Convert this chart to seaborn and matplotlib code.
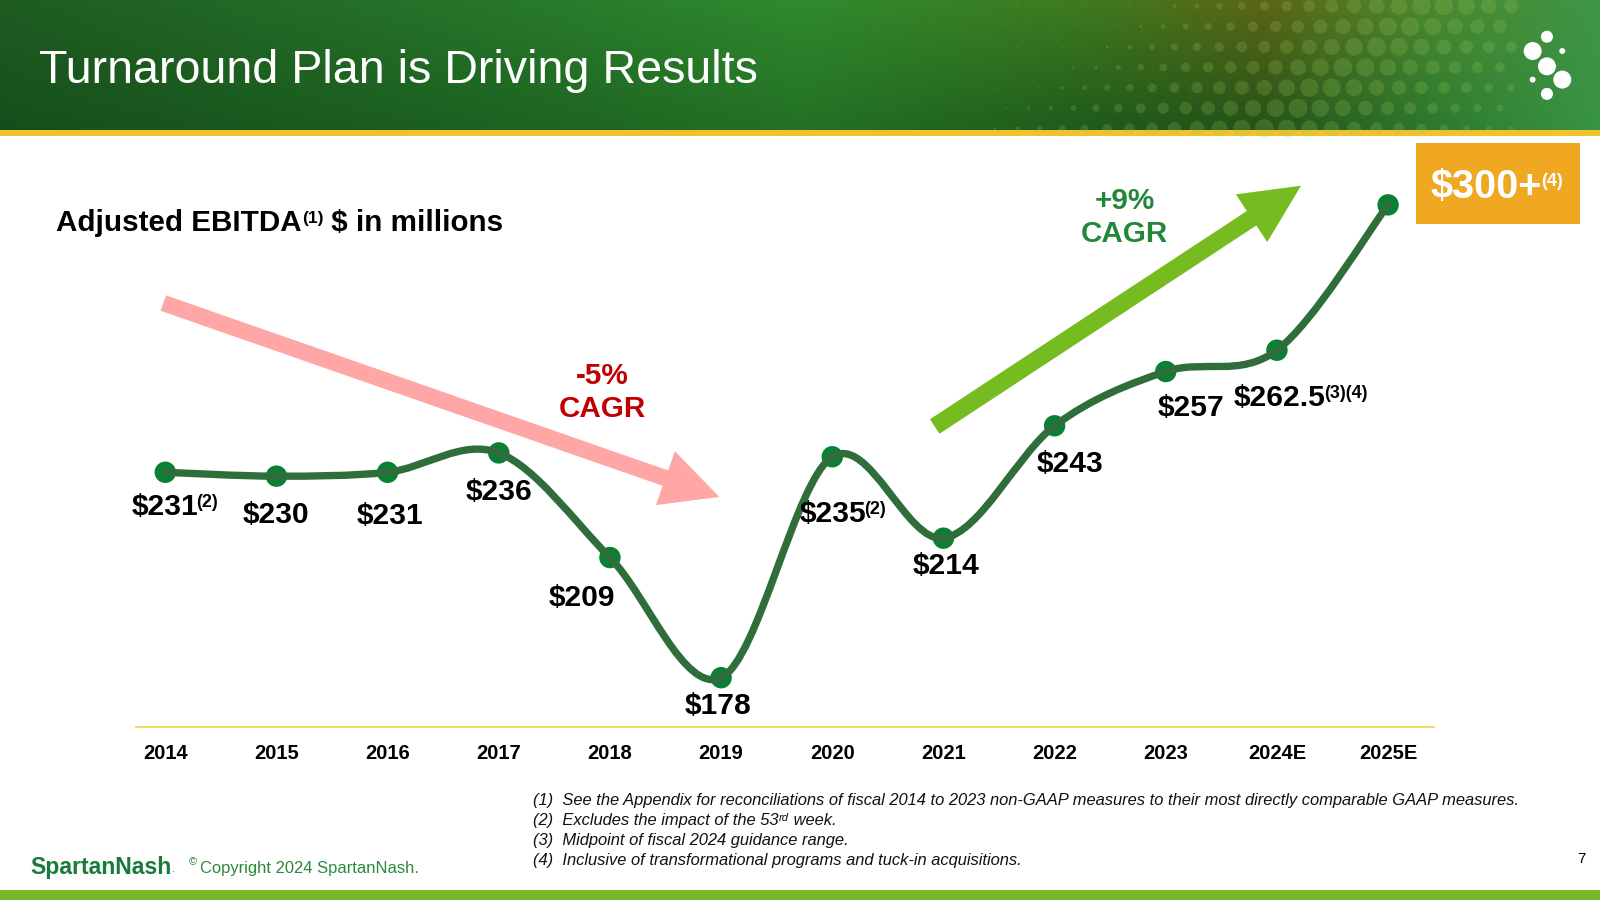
"""
plot.py
=======
Adjusted EBITDA slide: smooth line of yearly values, CAGR arrows,
header banner and footnotes. Saves out.png (1600x900).
"""

import numpy as np
import pandas as pd
import matplotlib
matplotlib.use("Agg")
import matplotlib.pyplot as plt
import matplotlib.patches as mpatches
from matplotlib.path import Path
import seaborn as sns

# ── Data ──────────────────────────────────────────────────────
years  = ["2014", "2015", "2016", "2017", "2018", "2019",
          "2020", "2021", "2022", "2023", "2024E", "2025E"]
ebitda = [231, 230, 231, 236, 209, 178, 235, 214, 243, 257, 262.5, 300]
value_labels = ["$231", "$230", "$231", "$236", "$209", "$178",
                "$235", "$214", "$243", "$257", "$262.5", "$300+"]
label_notes  = ["(2)", "", "", "", "", "", "(2)", "", "", "", "(3)(4)", "(4)"]

title    = "Turnaround Plan is Driving Results"
subtitle = "Adjusted EBITDA"
down_cagr = "-5%\nCAGR"
up_cagr   = "+9%\nCAGR"
footnotes = [
    ("(1)  See the Appendix for reconciliations of fiscal 2014 to 2023 non-GAAP "
     "measures to their most directly comparable GAAP measures.", "", ""),
    ("(2)  Excludes the impact of the 53", "rd", " week."),
    ("(3)  Midpoint of fiscal 2024 guidance range.", "", ""),
    ("(4)  Inclusive of transformational programs and tuck-in acquisitions.", "", ""),
]

# ── Layout (slide pixels on a 1568 x 882 grid) ────────────────
PT = 0.7347                      # slide px -> points
# label offset from its point (dx, dy), slide px, +dy = down
label_offsets = [(0, 34), (0, 38), (2, 43), (0, 38), (-27, 40), (-3, 28),
                 (1, 56), (3, 27), (15, 37), (25, 36), (3, 47), (0, 0)]

LINE_C   = "#2F6E3B"
MARKER_C = "#0B7F36"
RED_C    = "#C00000"
GREEN_C  = "#23873A"

sns.set_theme(style="white")
plt.rcParams["font.family"] = ["Liberation Sans", "DejaVu Sans"]
plt.rcParams["text.color"] = "black"

df = pd.DataFrame({"year": years, "pos": np.arange(len(years)), "ebitda": ebitda})

fig = plt.figure(figsize=(16, 9), dpi=100)
fig.patch.set_facecolor("white")

# background axes in slide pixels (y down)
bg = fig.add_axes([0, 0, 1, 1], zorder=0)
bg.set_xlim(0, 1568)
bg.set_ylim(882, 0)
bg.axis("off")

# ── Header banner ─────────────────────────────────────────────
stops = [0.0, 0.3, 0.5, 0.68, 0.79, 0.9, 1.0]
top_c = ["#1E5C22", "#27762A", "#2F8A2E", "#3F7A1F", "#5D6515", "#4A8A31", "#3F9546"]
bot_c = ["#164E1B", "#1C6120", "#237124", "#1F5A1A", "#22521A", "#2D7A30", "#389444"]
W, H = 400, 40
u = np.linspace(0, 1, W)
def ramp(cols):
    rgb = np.array([matplotlib.colors.to_rgb(c) for c in cols])
    return np.stack([np.interp(u, stops, rgb[:, k]) for k in range(3)], axis=1)
t_row, b_row = ramp(top_c), ramp(bot_c)
v = np.linspace(0, 1, H)[:, None, None]
img = t_row[None] * (1 - v) + b_row[None] * v
bg.imshow(img, extent=(0, 1568, 128, 0), aspect="auto", zorder=0)
bg.add_patch(mpatches.Rectangle((0, 127), 1568, 6, color="#F2C12E", lw=0, zorder=1))

# halftone dots
for j in range(7):
    for i in range(24):
        x = 975 + 22 * i + (11 if j % 2 else 0)
        y = 6 + 20 * j
        if x > 1485:
            continue
        d = (x - 1330) * 0.6 + (y - 60) * 0.8
        r = 8.5 * np.clip(1 - abs(d) / 170, 0, 1) + 0.8
        bg.add_patch(mpatches.Circle((x, y), r, color="#9CC85A", alpha=0.22, lw=0, zorder=1))

# logo
for (cx, cy, r) in [(1516, 36, 5.9), (1502, 50, 8.8), (1531, 50, 2.9), (1516, 65, 8.8),
                    (1502, 78, 2.9), (1531, 78, 8.8), (1516, 92, 5.9)]:
    bg.add_patch(mpatches.Circle((cx, cy), r, color="white", lw=0, zorder=2))

bg.text(38, 70, title, color="white", fontsize=33.6, va="center", ha="left", zorder=3)

# bottom bar
bg.add_patch(mpatches.Rectangle((0, 872), 1568, 10, color="#76B82A", lw=0))

# ── Subtitle ──────────────────────────────────────────────────
st = bg.text(55, 219, subtitle, fontsize=21.3, weight="bold", va="center", ha="left")
sp = bg.annotate("(1)", xy=(1, 1), xycoords=st, xytext=(0, -1), textcoords="offset points",
                 fontsize=12.5, weight="bold", va="top", ha="left")
bg.annotate(" $ in millions", xy=(1, 0), xycoords=(sp, st), xytext=(0, 0),
            textcoords="offset points", fontsize=21.3, weight="bold", va="bottom", ha="left")

# ── CAGR arrows ───────────────────────────────────────────────
bg.add_patch(mpatches.FancyArrow(160, 297, 545, 190, width=16, head_width=56, head_length=56,
                                 length_includes_head=True, color="#FFA6A6", lw=0, zorder=1))
bg.add_patch(mpatches.FancyArrow(916, 418, 359, -236, width=17, head_width=56, head_length=58,
                                 length_includes_head=True, color="#76BC21", lw=0, zorder=1))
bg.text(590, 385, down_cagr, color=RED_C, fontsize=21.3, weight="bold",
        ha="center", va="center", linespacing=1.22)
bg.text(1102, 213, up_cagr, color=GREEN_C, fontsize=21.3, weight="bold",
        ha="center", va="center", linespacing=1.22)

# ── Main axes ─────────────────────────────────────────────────
ax = fig.add_axes([133 / 1568, 1 - 712 / 882, (1405 - 133) / 1568, (712 - 140) / 882], zorder=2)
ax.set_facecolor("none")

sns.scatterplot(data=df, x="pos", y="ebitda", s=238, color=MARKER_C, edgecolor="none",
                legend=False, zorder=3, ax=ax)

# smooth line through the points (Catmull-Rom as cubic Bezier)
pts = df[["pos", "ebitda"]].to_numpy(dtype=float)
n = len(pts)
verts, codes = [tuple(pts[0])], [Path.MOVETO]
for k in range(n - 1):
    p0, p1 = pts[max(k - 1, 0)], pts[k]
    p2, p3 = pts[k + 1], pts[min(k + 2, n - 1)]
    verts += [tuple(p1 + (p2 - p0) / 6), tuple(p2 - (p3 - p1) / 6), tuple(p2)]
    codes += [Path.CURVE4] * 3
ax.add_patch(mpatches.PathPatch(Path(verts, codes), facecolor="none", edgecolor=LINE_C,
                                lw=5.3, capstyle="round", joinstyle="round", zorder=4))

ax.set_xlim(-0.266, 11.41)
ax.set_ylim(165.4, 316)
ax.set_xticks(df["pos"], years)
ax.set_yticks([])
ax.set_xlabel("")
ax.set_ylabel("")
ax.tick_params(axis="x", length=0, pad=12.5, labelsize=14.5, labelcolor="black")
for lab in ax.get_xticklabels():
    lab.set_fontweight("bold")
for side in ["top", "left", "right"]:
    ax.spines[side].set_visible(False)
ax.spines["bottom"].set_color("#F2D45C")
ax.spines["bottom"].set_linewidth(1.3)

# value labels
for k in range(n - 1):
    dx, dy = label_offsets[k]
    t = ax.annotate(value_labels[k], xy=(df["pos"][k], df["ebitda"][k]),
                    xytext=(dx * PT, -dy * PT), textcoords="offset points",
                    ha="center", va="center", fontsize=21.6, weight="bold",
                    color="black", zorder=5)
    if label_notes[k]:
        ax.annotate(label_notes[k], xy=(1, 0.97), xycoords=t, xytext=(-1.5, 0),
                    textcoords="offset points", ha="left", va="top",
                    fontsize=13, weight="bold", color="black", zorder=5)

# $300+ box
bg.add_patch(mpatches.Rectangle((1388, 140), 160, 80, color="#F0A823", lw=0, zorder=1))
bt = bg.text(1456, 183, value_labels[-1], color="white", fontsize=28.5, weight="bold",
             ha="center", va="center", zorder=2)
bg.annotate(label_notes[-1], xy=(1, 0.86), xycoords=bt, xytext=(-0.5, 0), textcoords="offset points",
            color="white", fontsize=13, weight="bold", ha="left", va="top", zorder=2)

# ── Footnotes and footer ─────────────────────────────────────
fn_font = dict(fontsize=11.9, style="italic", color="#111111",
               family=["Liberation Sans", "DejaVu Sans"])
for k, (main, sup, rest) in enumerate(footnotes):
    y = 784 + 19.7 * k
    t = bg.text(522, y, main, ha="left", va="center", **fn_font)
    if sup:
        s = bg.annotate(sup, xy=(1, 0.95), xycoords=t, xytext=(0.3, 0), textcoords="offset points",
                        ha="left", va="top", **{**fn_font, "fontsize": 8})
        bg.annotate(rest, xy=(1, 0), xycoords=(s, t), xytext=(0, 0), textcoords="offset points",
                    ha="left", va="bottom", **fn_font)

logo = bg.text(30, 850, "SpartanNash", color="#1A7A3C", fontsize=16.6, weight="bold",
               ha="left", va="center")
bg.annotate(".", xy=(1, 0.2), xycoords=logo, color="#1A7A3C", fontsize=8,
            ha="left", va="bottom")
bg.text(185, 845, "©", color="#2A8A3A", fontsize=8, ha="left", va="center")
bg.text(196, 851, "Copyright 2024 SpartanNash.", color="#2A8A3A", fontsize=11.9,
        ha="left", va="center")
bg.text(1550, 842, "7", color="black", fontsize=11, ha="center", va="center")

fig.savefig("out.png", dpi=100)
plt.close(fig)
